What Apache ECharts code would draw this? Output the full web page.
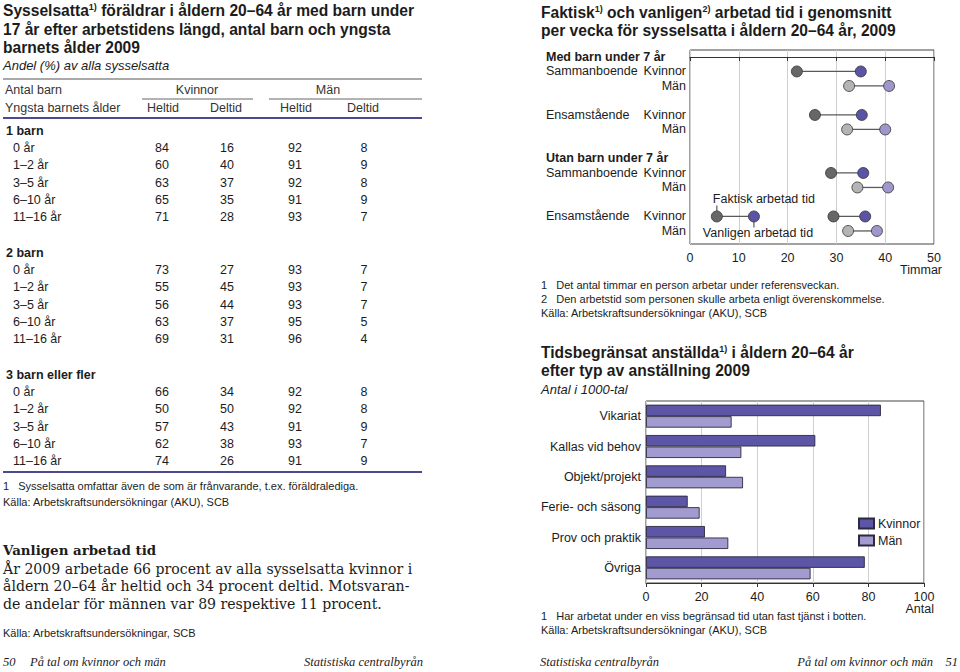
<!DOCTYPE html>
<html>
<head>
<meta charset="utf-8">
<script src="https://cdn.jsdelivr.net/npm/echarts@6.0.0/dist/echarts.min.js"></script>
<style>
html,body{margin:0;padding:0;background:#fff;}
#c{width:960px;height:672px;}
</style>
</head>
<body>
<div id="c"></div>
<script>
// ---------- Table data (left page) ----------
const tableGroups = ['1 barn', '2 barn', '3 barn eller fler'];
const tableAges = ['0 år', '1–2 år', '3–5 år', '6–10 år', '11–16 år'];
const kvinnorHeltid = [84, 60, 63, 65, 71, 73, 55, 56, 63, 69, 66, 50, 57, 62, 74];
const kvinnorDeltid = [16, 40, 37, 35, 28, 27, 45, 44, 37, 31, 34, 50, 43, 38, 26];
const manHeltid = [92, 91, 92, 91, 93, 93, 93, 93, 95, 96, 92, 92, 91, 93, 91];
const manDeltid = [8, 9, 8, 9, 7, 7, 7, 7, 5, 4, 8, 8, 9, 7, 9];

// ---------- Dumbbell chart data ----------
const dumbGroups = ['Med barn under 7 år', 'Utan barn under 7 år'];
const households = ['Sammanboende', 'Ensamstående'];
const sexes = ['Kvinnor', 'Män'];
// order: group -> household -> sex
const faktiskTid = [21.9, 32.6, 25.6, 32.2, 28.9, 34.3, 29.4, 32.4];
const vanligenTid = [35.0, 40.8, 35.2, 40.0, 35.5, 40.6, 35.9, 38.3];
const legendFaktisk = 5.5;
const legendVanligen = 13.1;
const dumbTicks = [0, 10, 20, 30, 40, 50];

// ---------- Bar chart data ----------
const barCategories = ['Vikariat', 'Kallas vid behov', 'Objekt/projekt', 'Ferie- och säsong', 'Prov och praktik', 'Övriga'];
const barKvinnor = [84.5, 60.9, 28.8, 15.0, 21.2, 78.7];
const barMan = [30.8, 34.3, 34.9, 19.3, 29.6, 59.2];

// ---------- build helpers ----------
const SANS = '"Liberation Sans", Arial, sans-serif';
const SERIF = '"Liberation Serif", "Times New Roman", serif';
const WIDESERIF = '"DejaVu Serif", "Liberation Serif", serif';
const INK = '#1c1c1c';
const PURPLE_RULE = '#4d4892';
const TITLE_SIZE = 15.6;
const NOTE_SIZE = 11;

// Row positions (slot index) and y labels for the dumbbell chart
const rowPos = [];
const rowSex = [];
const yLabelAt = {};
dumbGroups.forEach((g, gi) => {
  const base = gi * 7;
  yLabelAt[base] = '{h|' + g + '}';
  households.forEach((h, hi) => {
    sexes.forEach((s, si) => {
      const pos = base + 1 + hi * 3 + si;
      rowPos.push(pos);
      rowSex.push(si);
      yLabelAt[pos] = si === 0 ? '{a|' + h + '}{b|' + s + '}' : '{b|' + s + '}';
    });
  });
});
const legendRow = rowPos[6];

const graphics = [];
function txt(text, x, y, opt) {
  opt = opt || {};
  graphics.push({
    type: 'text', silent: true,
    style: Object.assign({
      text: text, x: x, y: y,
      fontFamily: SANS, fontSize: 12.5, fill: INK,
      align: 'left', verticalAlign: 'middle'
    }, opt)
  });
}
function hline(x1, x2, y, stroke, w) {
  graphics.push({
    type: 'line', silent: true,
    shape: { x1: x1, y1: y, x2: x2, y2: y },
    style: { stroke: stroke, lineWidth: w }
  });
}
const supRich = { s: { fontSize: 9, fontWeight: 'bold', fontFamily: SANS, verticalAlign: 'top', fill: INK } };

// ----- Left page titles -----
txt('Sysselsatta{s|1)} föräldrar i åldern 20–64 år med barn under', 3, 10, { fontSize: TITLE_SIZE, fontWeight: 'bold', rich: supRich });
txt('17 år efter arbetstidens längd, antal barn och yngsta', 3, 29, { fontSize: TITLE_SIZE, fontWeight: 'bold' });
txt('barnets ålder 2009', 3, 47, { fontSize: TITLE_SIZE, fontWeight: 'bold' });
txt('Andel (%) av alla sysselsatta', 3, 65, { fontSize: 13, fontStyle: 'italic' });

// ----- Table -----
const colX = [162, 227, 295, 364];
hline(3, 422, 79, '#555', 1.2);
txt('Antal barn', 5, 90, { fontSize: 12.5, fill: '#333' });
txt('Kvinnor', 197, 90, { align: 'center', fill: '#333' });
txt('Män', 328, 90, { align: 'center', fill: '#333' });
hline(142, 253, 99, '#666', 1);
hline(269, 422, 99, '#666', 1);
txt('Yngsta barnets ålder', 5, 108, { fill: '#333' });
['Heltid', 'Deltid', 'Heltid', 'Deltid'].forEach((h, i) => txt(h, colX[i] + (i % 2 === 0 ? 1 : -1), 108, { align: 'center', fill: '#333' }));
hline(3, 422, 118, PURPLE_RULE, 2);

const cols = [kvinnorHeltid, kvinnorDeltid, manHeltid, manDeltid];
tableGroups.forEach((g, gi) => {
  const gy = 131 + gi * 122;
  txt(g, 6, gy, { fontWeight: 'bold', fontSize: 12.5 });
  tableAges.forEach((a, ai) => {
    const y = gy + 17.2 * (ai + 1);
    txt(a, 13, y, { fontSize: 12.5 });
    const idx = gi * tableAges.length + ai;
    cols.forEach((col, ci) => txt(String(col[idx]), colX[ci], y, { align: 'center', fontSize: 12.5 }));
  });
});
hline(3, 422, 472, PURPLE_RULE, 2);
txt('1   Sysselsatta omfattar även de som är frånvarande, t.ex. föräldralediga.', 3, 486, { fontSize: NOTE_SIZE });
txt('Källa: Arbetskraftsundersökningar (AKU), SCB', 3, 502, { fontSize: NOTE_SIZE });

// ----- Text block -----
txt('Vanligen arbetad tid', 3, 550, { fontFamily: WIDESERIF, fontSize: 13.4, fontWeight: 'bold' });
txt('År 2009 arbetade 66 procent av alla sysselsatta kvinnor i\nåldern 20–64 år heltid och 34 procent deltid. Motsvaran-\nde andelar för männen var 89 respektive 11 procent.',
  3, 569, { fontFamily: WIDESERIF, fontSize: 14.1, lineHeight: 17.5, verticalAlign: 'top', y: 560 });
txt('Källa: Arbetskraftsundersökningar, SCB', 3, 633, { fontSize: NOTE_SIZE });

// ----- Footers -----
const footStyle = { fontFamily: SERIF, fontStyle: 'italic', fontSize: 12.5 };
txt('50', 3, 662, footStyle);
txt('På tal om kvinnor och män', 30, 662, footStyle);
txt('Statistiska centralbyrån', 423, 662, Object.assign({ align: 'right' }, footStyle));
txt('Statistiska centralbyrån', 540, 662, footStyle);
txt('På tal om kvinnor och män', 933, 662, Object.assign({ align: 'right' }, footStyle));
txt('51', 958, 662, Object.assign({ align: 'right' }, footStyle));

// ----- Right page titles / notes -----
txt('Faktisk{s|1)} och vanligen{s|2)} arbetad tid i genomsnitt', 541, 12, { fontSize: TITLE_SIZE, fontWeight: 'bold', rich: supRich });
txt('per vecka för sysselsatta i åldern 20–64 år, 2009', 541, 30, { fontSize: TITLE_SIZE, fontWeight: 'bold' });
txt('Timmar', 942, 270, { align: 'right' });
txt('1   Det antal timmar en person arbetar under referensveckan.', 541, 285, { fontSize: NOTE_SIZE });
txt('2   Den arbetstid som personen skulle arbeta enligt överenskommelse.', 541, 299, { fontSize: NOTE_SIZE });
txt('Källa: Arbetskraftsundersökningar (AKU), SCB', 541, 313, { fontSize: NOTE_SIZE });

txt('Tidsbegränsat anställda{s|1)} i åldern 20–64 år', 541, 352, { fontSize: TITLE_SIZE, fontWeight: 'bold', rich: supRich });
txt('efter typ av anställning 2009', 541, 370, { fontSize: TITLE_SIZE, fontWeight: 'bold' });
txt('Antal i 1000-tal', 541, 389, { fontSize: 13, fontStyle: 'italic' });
txt('Antal', 934, 609, { align: 'right' });
txt('1   Har arbetat under en viss begränsad tid utan fast tjänst i botten.', 541, 616, { fontSize: NOTE_SIZE });
txt('Källa: Arbetskraftsundersökningar (AKU), SCB', 541, 630, { fontSize: NOTE_SIZE });

// ---------- Chart ----------
const chart = echarts.init(document.getElementById('c'), null, { renderer: 'svg' });

const dotColors = {
  faktisk: ['#676767', '#b4b4b4'],
  vanligen: ['#5b54a6', '#9d97cc']
};
const axisTextStyle = { color: INK, fontFamily: SANS, fontSize: 12.5 };

const option = {
  animation: false,
  backgroundColor: '#fff',
  textStyle: { fontFamily: SANS },
  graphic: { elements: graphics },
  legend: {
    data: ['Kvinnor', 'Män'],
    orient: 'vertical',
    left: 858, top: 517, padding: 0,
    itemWidth: 15, itemHeight: 10, itemGap: 4,
    icon: 'rect',
    textStyle: { color: INK, fontFamily: SANS, fontSize: 12.5, padding: [0, 0, 0, -1] }
  },
  grid: [
    { left: 690, top: 50, width: 244, height: 194, show: true, borderColor: '#444', borderWidth: 1, containLabel: false, outerBoundsMode: 'none' },
    { left: 646, top: 401, width: 278, height: 182, show: true, borderColor: '#444', borderWidth: 1, containLabel: false, outerBoundsMode: 'none' }
  ],
  xAxis: [
    {
      gridIndex: 0, type: 'value', min: 0, max: 50, interval: 10,
      axisLine: { show: true, lineStyle: { color: '#333' } },
      axisTick: { show: true, length: 4, lineStyle: { color: '#333' } },
      axisLabel: Object.assign({ margin: 7 }, axisTextStyle),
      splitLine: { show: true, lineStyle: { color: '#cfcfcf', width: 1 } }
    },
    {
      gridIndex: 1, type: 'value', min: 0, max: 100, interval: 20,
      axisLine: { show: true, lineStyle: { color: '#333' } },
      axisTick: { show: true, length: 4, lineStyle: { color: '#333' } },
      axisLabel: Object.assign({ margin: 7 }, axisTextStyle),
      splitLine: { show: true, lineStyle: { color: '#cfcfcf', width: 1 } }
    }
  ],
  yAxis: [
    {
      gridIndex: 0, type: 'value', inverse: true, min: -0.48, max: 12.9,
      axisLine: { show: false }, axisTick: { show: false }, splitLine: { show: false },
      axisLabel: {
        show: true, margin: 4,
        customValues: Object.keys(yLabelAt).map(Number),
        formatter: (v) => yLabelAt[Math.round(v)] || '',
        rich: {
          h: { width: 140, align: 'left', fontWeight: 'bold', color: INK, fontFamily: SANS, fontSize: 12.5 },
          a: { width: 92, align: 'left', color: INK, fontFamily: SANS, fontSize: 12.5 },
          b: { width: 48, align: 'right', color: INK, fontFamily: SANS, fontSize: 12.5 }
        }
      }
    },
    {
      gridIndex: 1, type: 'category', inverse: true, data: barCategories,
      axisLine: { show: false }, axisTick: { show: false },
      axisLabel: Object.assign({ margin: 5 }, axisTextStyle)
    }
  ],
  series: [
    {
      type: 'custom', name: 'connectors', xAxisIndex: 0, yAxisIndex: 0, z: 2,
      encode: { x: [0, 1], y: 2 },
      data: faktiskTid.map((f, i) => [f, vanligenTid[i], rowPos[i]]),
      renderItem: (params, api) => {
        const p1 = api.coord([api.value(0), api.value(2)]);
        const p2 = api.coord([api.value(1), api.value(2)]);
        return { type: 'line', shape: { x1: p1[0], y1: p1[1], x2: p2[0], y2: p2[1] }, style: { stroke: '#5a5a5a', lineWidth: 1.3 } };
      }
    },
    {
      type: 'scatter', name: 'Faktisk arbetad tid', xAxisIndex: 0, yAxisIndex: 0, z: 3,
      symbolSize: 11,
      data: faktiskTid.map((f, i) => ({ value: [f, rowPos[i]], itemStyle: { color: dotColors.faktisk[rowSex[i]] } })),
      itemStyle: { borderColor: '#333', borderWidth: 0.8, opacity: 1 }
    },
    {
      type: 'scatter', name: 'Vanligen arbetad tid', xAxisIndex: 0, yAxisIndex: 0, z: 3,
      symbolSize: 11,
      data: vanligenTid.map((f, i) => ({ value: [f, rowPos[i]], itemStyle: { color: dotColors.vanligen[rowSex[i]] } })),
      itemStyle: { borderColor: '#333', borderWidth: 0.8, opacity: 1 }
    },
    {
      type: 'custom', name: 'key', xAxisIndex: 0, yAxisIndex: 0, z: 4,
      encode: { x: [0, 1], y: 2 },
      data: [[legendFaktisk, legendVanligen, legendRow]],
      renderItem: (params, api) => {
        const p1 = api.coord([api.value(0), api.value(2)]);
        const p2 = api.coord([api.value(1), api.value(2)]);
        const ts = { fontFamily: SANS, fontSize: 12.5, fill: INK, verticalAlign: 'middle', align: 'left' };
        return {
          type: 'group', children: [
            { type: 'line', shape: { x1: p1[0], y1: p1[1], x2: p2[0], y2: p2[1] }, style: { stroke: '#5a5a5a', lineWidth: 1.3 } },
            { type: 'line', shape: { x1: p1[0], y1: p1[1], x2: p1[0], y2: p1[1] - 11 }, style: { stroke: '#5a5a5a', lineWidth: 1.2 } },
            { type: 'line', shape: { x1: p2[0], y1: p2[1], x2: p2[0], y2: p2[1] + 11 }, style: { stroke: '#5a5a5a', lineWidth: 1.2 } },
            { type: 'circle', shape: { cx: p1[0], cy: p1[1], r: 5.5 }, style: { fill: dotColors.faktisk[0], stroke: '#333', lineWidth: 0.8 } },
            { type: 'circle', shape: { cx: p2[0], cy: p2[1], r: 5.5 }, style: { fill: dotColors.vanligen[0], stroke: '#333', lineWidth: 0.8 } },
            { type: 'text', style: Object.assign({ text: 'Faktisk arbetad tid', x: p1[0] - 4, y: p1[1] - 17 }, ts) },
            { type: 'text', style: Object.assign({ text: 'Vanligen arbetad tid', x: p1[0] - 14, y: p1[1] + 17 }, ts) }
          ]
        };
      }
    },
    {
      type: 'bar', name: 'Kvinnor', xAxisIndex: 1, yAxisIndex: 1,
      data: barKvinnor, barWidth: 11.5, barGap: '0%',
      itemStyle: { color: '#5d55a6', borderColor: '#2c2940', borderWidth: 0.9 }
    },
    {
      type: 'bar', name: 'Män', xAxisIndex: 1, yAxisIndex: 1,
      data: barMan, barWidth: 11.5, barGap: '0%',
      itemStyle: { color: '#a29bcf', borderColor: '#2c2940', borderWidth: 0.9 }
    }
  ]
};
chart.setOption(option);
</script>
</body>
</html>
